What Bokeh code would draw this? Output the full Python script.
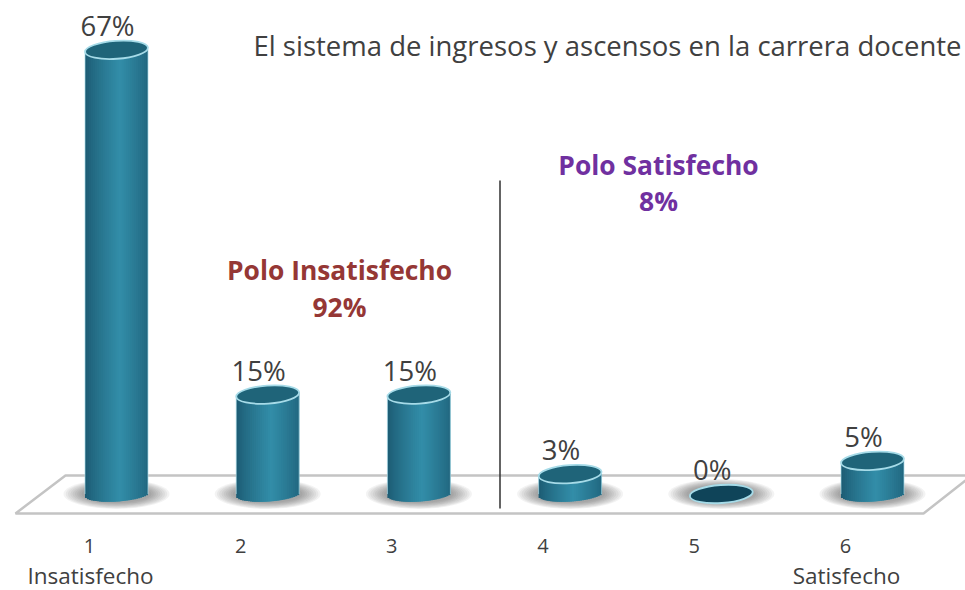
import numpy as np
from bokeh.plotting import figure
from bokeh.models import Range1d, LinearAxis, FixedTicker, ColumnDataSource
from bokeh.core.properties import value
from bokeh.embed import file_html
from bokeh.resources import INLINE

# --- data ---
categories = [1, 2, 3, 4, 5, 6]
percent = [67, 15, 15, 3, 0, 5]
percent_labels = ["67%", "15%", "15%", "3%", "0%", "5%"]
tick_labels = ["1", "2", "3", "4", "5", "6"]
pole_ticks = {1: "Insatisfecho", 6: "Satisfecho"}
title_text = "El sistema de ingresos y ascensos en la carrera docente"
pole_left = ["Polo Insatisfecho", "92%"]
pole_right = ["Polo Satisfecho", "8%"]

# --- layout (reference pixels) ---
W, FRAME_H = 965, 535
PX_LEFT, PX_TOP = 0, 0
X1, DX = 116.0, 151.2
Y0, DY = 493.5, 6.63
FRAME_BOTTOM = PX_TOP + FRAME_H
def xv(px): return 1 + (px - X1) / DX
def yv(py): return (Y0 - py) / DY

FONT = "Open Sans"
p = figure(frame_width=W, frame_height=FRAME_H, output_backend="svg", toolbar_location=None,
           x_range=Range1d(xv(PX_LEFT), xv(PX_LEFT + W)), y_range=Range1d(yv(FRAME_BOTTOM), yv(PX_TOP)),
           min_border=0, min_border_left=0, min_border_right=0, min_border_top=0, min_border_bottom=0,
           outline_line_color=None, background_fill_color="white", border_fill_color="white")
p.grid.visible = False
p.yaxis.visible = False

# numbers axis
ax = p.xaxis[0]
ax.ticker = FixedTicker(ticks=[c - 0.179 for c in categories])
ax.major_label_overrides = {c - 0.179: t for c, t in zip(categories, tick_labels)}
ax.axis_line_color = None
ax.major_tick_line_color = None
ax.minor_tick_line_color = None
ax.major_tick_out = 0
ax.major_tick_in = 0
ax.major_label_standoff = 3
ax.major_label_text_font = FONT
ax.major_label_text_font_size = "20px"
ax.major_label_text_color = "#404040"

# poles axis
ax2 = LinearAxis(ticker=FixedTicker(ticks=[k - 0.172 for k in pole_ticks]),
                 major_label_overrides={k - 0.172: t for k, t in pole_ticks.items()},
                 axis_line_color=None, major_tick_line_color=None, minor_tick_line_color=None,
                 major_tick_out=0, major_tick_in=0,
                 major_label_standoff=4, major_label_text_font=FONT, major_label_text_font_size="22.5px",
                 major_label_text_color="#404040")
p.add_layout(ax2, "below")

# floor
p.line(xv(np.array([965, 65, 15, 923, 965])), yv(np.array([475, 475, 513, 513, 480])),
       line_color="#c4c4c4", line_width=2.5)

BAR_W = 63.0
ELL_H = 18.0
BASE_H = 15.0
TILT = np.deg2rad(4.0)
x_pos = np.array(categories, dtype=float)
vals = np.array(percent, dtype=float)

# shadows
for w, h in zip(np.linspace(106, 70, 9), np.linspace(30, 18, 9)):
    p.ellipse(x_pos, np.zeros(6), width=w, height=h, width_units="screen", height_units="screen",
              fill_color="#3a3a3a", fill_alpha=0.06, line_color=None)

# cylinder bodies from vertical strips
N = 32
t = (np.arange(N) + 0.5) / N
edges = np.linspace(-1, 1, N + 1)
dark = np.array([0x1c, 0x5a, 0x72])
light = np.array([0x33, 0x8e, 0xa9])
mix = np.clip(1 - np.abs(t - 0.55) / 0.55, 0, 1) ** 0.8
strip_cols = ["#%02x%02x%02x" % tuple((dark + (light - dark) * m).astype(int)) for m in mix]
mid = (edges[:-1] + edges[1:]) / 2
arc = np.sqrt(np.clip(1 - mid ** 2, 0, 1)) * (BASE_H / 2)
slope = mid * (BAR_W / 2) * np.tan(TILT)
right_edge = np.minimum(edges[1:] + 2.0 / N, 1.0)
for v, c in zip(vals, categories):
    if v <= 0:
        continue
    src = ColumnDataSource(dict(
        left=c + edges[:-1] * (BAR_W / 2) / DX, right=c + right_edge * (BAR_W / 2) / DX,
        bottom=(0 - (arc - slope) / DY), top=np.full(N, v) + slope / DY, color=strip_cols))
    p.quad(left="left", right="right", bottom="bottom", top="top", fill_color="color",
           line_color=None, source=src)
    xl, xr = c - (BAR_W / 2) / DX, c + (BAR_W / 2) / DX
    p.segment([xl, xr], [v, v], [xl, xr], [0, 0], line_color="#a9dbe8", line_width=1, line_alpha=0.7)

# top faces
top_colors = ["#0f4459" if v == 0 else "#1f6479" for v in vals]
p.ellipse(x_pos, vals, width=BAR_W, height=ELL_H, angle=TILT, width_units="screen", height_units="screen",
          fill_color=top_colors, line_color="#a6dbe8", line_width=1.8)

# data labels
p.text(x_pos, vals, text=percent_labels, x_offset=-9, y_offset=-6, text_align="center",
       text_baseline="bottom", text_font=value(FONT), text_font_size="27.5px", text_color="#404040")

# divider
p.line(xv(np.array([499.5, 499.5])), yv(np.array([180, 508])), line_color="#303030", line_width=1.5)

# title
p.text([xv(253)], [yv(45)], text=[title_text], text_align="left", text_baseline="middle",
       text_font=value(FONT), text_font_size="27.5px", text_color="#404040")

# poles
p.text([xv(339)] * 2, [yv(269), yv(306)], text=pole_left, text_align="center", text_baseline="middle",
       text_font=value(FONT), text_font_style="bold", text_font_size="26.4px", text_color="#953735")
p.text([xv(658)] * 2, [yv(164), yv(200)], text=pole_right, text_align="center", text_baseline="middle",
       text_font=value(FONT), text_font_style="bold", text_font_size="26.4px", text_color="#7030a0")

open("out.html", "w").write(file_html(p, INLINE))
